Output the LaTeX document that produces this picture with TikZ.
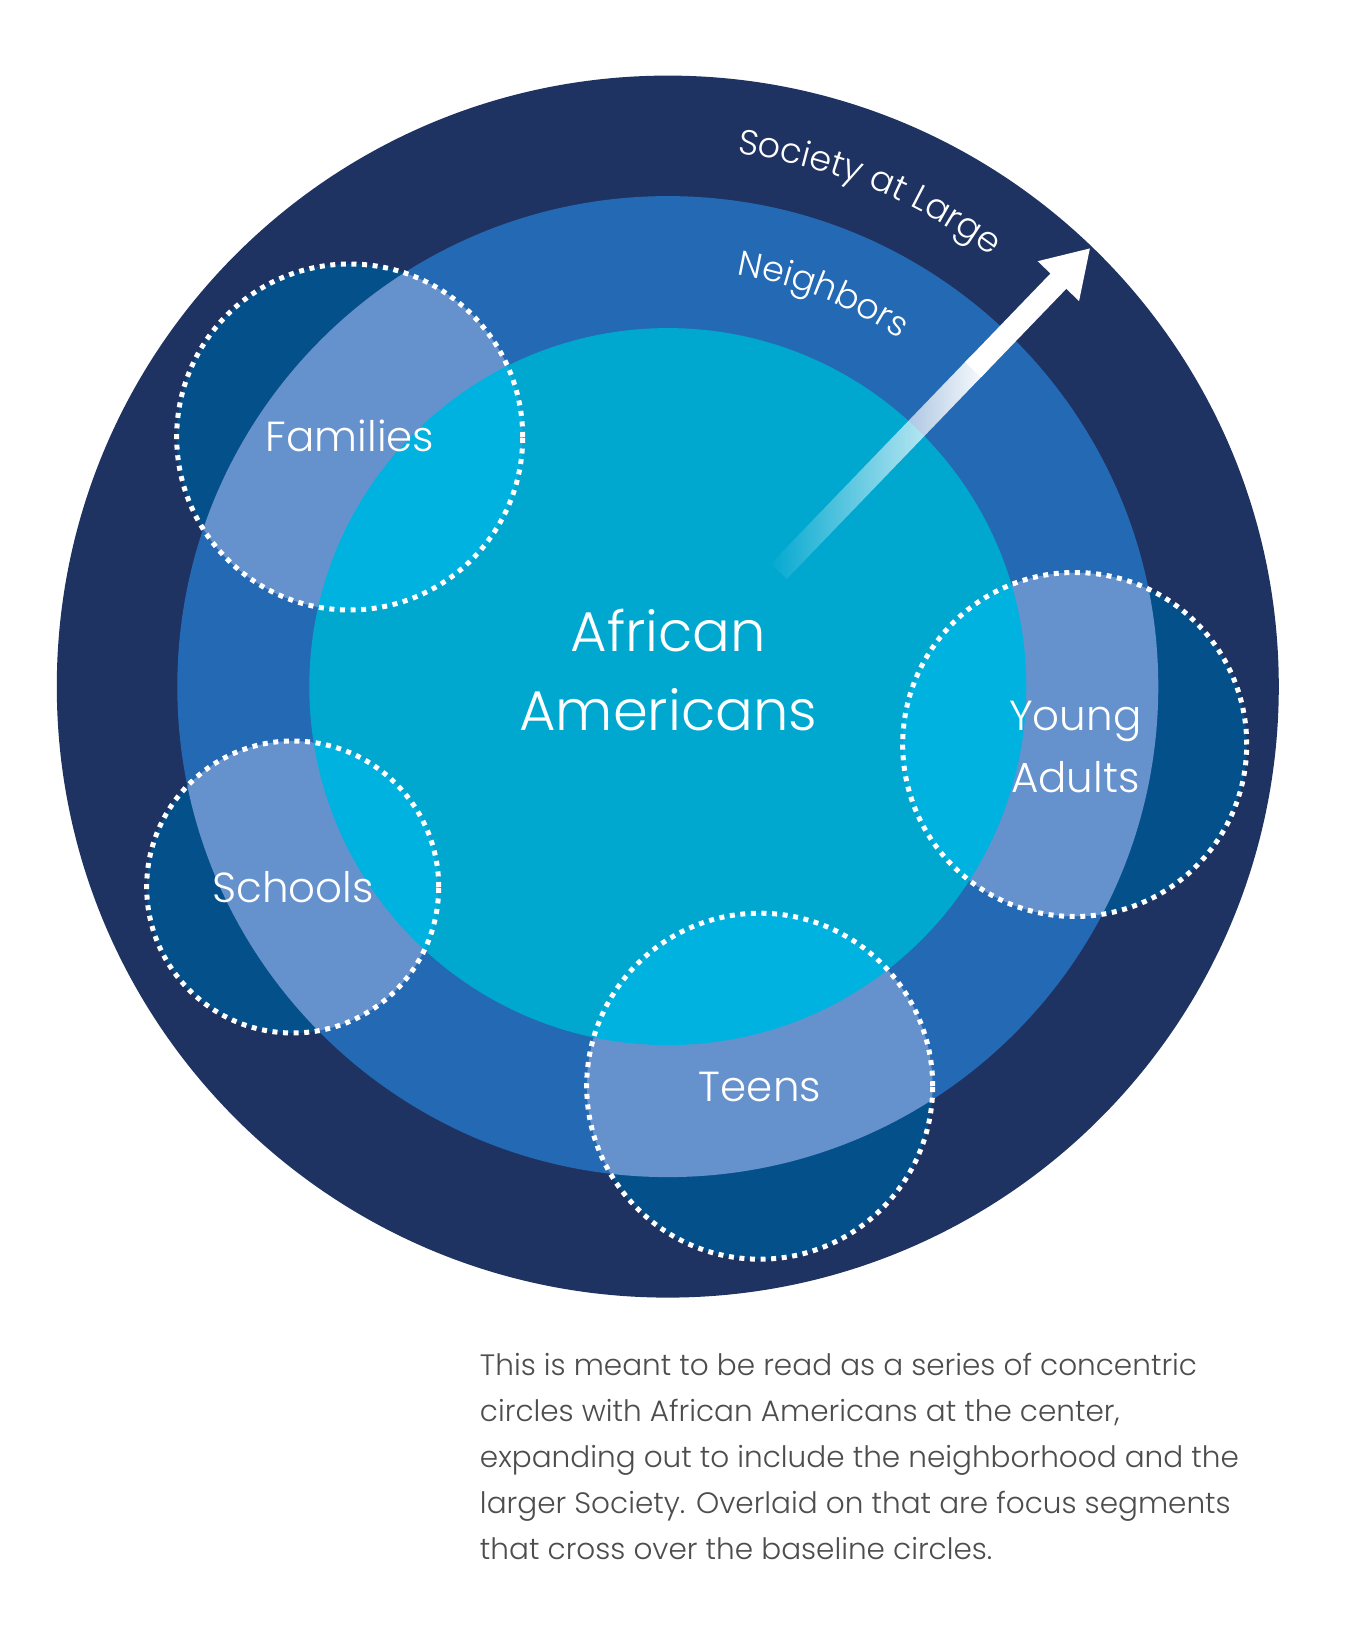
\documentclass[tikz,border=0pt]{standalone}
\usepackage{fontspec}
\setmainfont{Poppins Light}
\usetikzlibrary{arrows.meta,decorations.text,fadings}
\definecolor{society_color}{RGB}{31,51,99}
\definecolor{neighbor_color}{RGB}{36,105,179}
\definecolor{core_color}{RGB}{0,168,208}
\definecolor{focus_society_color}{RGB}{4,80,138}
\definecolor{focus_neighbor_color}{RGB}{101,146,204}
\definecolor{focus_core_color}{RGB}{0,178,224}
\definecolor{caption_color}{RGB}{77,77,77}
\tikzfading[name=arrow_fade, left color=transparent!100, right color=transparent!0]
\tikzset{
  focus/.style={
    draw=white, line width=5pt, dash pattern=on 5pt off 5.6pt
  },
  focuslabel/.style={
    text=white, font=\fontsize{42pt}{62pt}\selectfont, align=center, inner sep=0pt
  },
  corelabel/.style={
    text=white, font=\fontsize{56pt}{79pt}\selectfont, align=center, inner sep=0pt
  },
  ringtext/.style={
    decorate, decoration={text along path, text align=left,
      text={|\fontsize{35pt}{40pt}\selectfont\color{white}|#1}}
  },
  caption/.style={
    text=caption_color, font=\fontsize{29.5pt}{46pt}\selectfont,
    align=left, inner sep=0pt
  },
  arrowlink/.style={white, line width=22pt}
}

\begin{document}
\begin{tikzpicture}

\useasboundingbox (-667.8pt,-949.4pt) rectangle (679.2pt,686.6pt);
\fill[white] (-667.8pt,-949.4pt) rectangle (679.2pt,686.6pt);

% baseline circles
\fill[society_color] (0,0) circle (611pt);
\fill[neighbor_color] (0,0) circle (490.5pt);
\fill[core_color] (0,0) circle (358.5pt);

\coordinate (families_c) at (-318.1pt, 249.6pt);
\coordinate (adults_c) at (406.9pt, -57.9pt);
\coordinate (schools_c) at (-375.1pt, -200.4pt);
\coordinate (teens_c) at (91.9pt, -399.6pt);

% focus segments
\begin{scope}
\clip (families_c) circle (173pt);
\fill[focus_society_color] (0,0) circle (611pt);
\fill[focus_neighbor_color] (0,0) circle (490.5pt);
\fill[focus_core_color] (0,0) circle (358.5pt);
\end{scope}
\begin{scope}
\clip (adults_c) circle (172pt);
\fill[focus_society_color] (0,0) circle (611pt);
\fill[focus_neighbor_color] (0,0) circle (490.5pt);
\fill[focus_core_color] (0,0) circle (358.5pt);
\end{scope}
\begin{scope}
\clip (schools_c) circle (146pt);
\fill[focus_society_color] (0,0) circle (611pt);
\fill[focus_neighbor_color] (0,0) circle (490.5pt);
\fill[focus_core_color] (0,0) circle (358.5pt);
\end{scope}
\begin{scope}
\clip (teens_c) circle (173pt);
\fill[focus_society_color] (0,0) circle (611pt);
\fill[focus_neighbor_color] (0,0) circle (490.5pt);
\fill[focus_core_color] (0,0) circle (358.5pt);
\end{scope}
\draw[focus] (families_c) circle (173pt);
\draw[focus] (adults_c) circle (172pt);
\draw[focus] (schools_c) circle (146pt);
\draw[focus] (teens_c) circle (173pt);

% outward arrow
\coordinate (arrow_tail) at (46.07:160pt);
\coordinate (arrow_fade_end) at (46.07:448pt);
\coordinate (arrow_solid) at (46.07:440pt);
\coordinate (arrow_tip) at (46.07:609pt);
\draw[arrowlink, path fading=arrow_fade] (arrow_tail) -- (arrow_fade_end);
\draw[arrowlink, -{Triangle[length=46pt, width=54pt]}] (arrow_solid) -- (arrow_tip);

% ring names
\path[ringtext={Society at Large}] (82.6:538pt) arc[start angle=82.6, end angle=35, radius=538pt];
\path[ringtext={Neighbors}] (80.5:418pt) arc[start angle=80.5, end angle=35, radius=418pt];

% labels
\node[corelabel] (core) at (0.5pt, 16.3pt) {African\\Americans};
\node[focuslabel, anchor=base] (families) at (-317.8pt, 234.9pt) {Families};
\node[focuslabel] (adults) at (407.5pt, -60.2pt) {Young\\Adults};
\node[focuslabel, anchor=base] (schools) at (-374.5pt, -216.1pt) {Schools};
\node[focuslabel, anchor=base] (teens) at (92.2pt, -415.1pt) {Teens};

\node[caption, anchor=north west] (note) at (-188pt, -666.7pt) {This is meant to be read as a series of concentric\\circles with African Americans at the center,\\expanding out to include the neighborhood and the\\larger Society. Overlaid on that are focus segments\\that cross over the baseline circles.};

\end{tikzpicture}
\end{document}
